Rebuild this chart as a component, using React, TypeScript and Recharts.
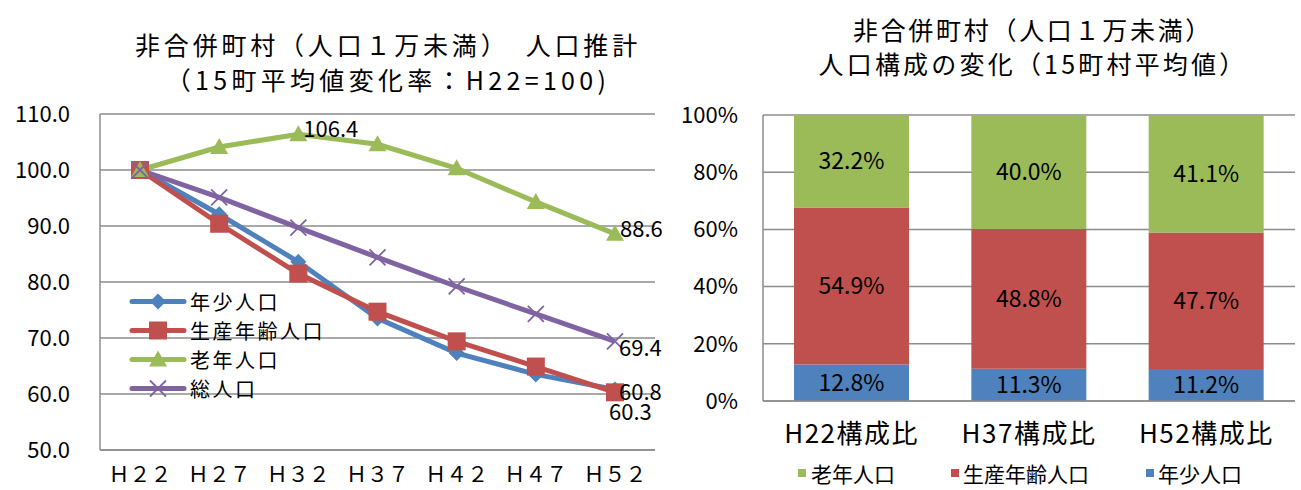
import {
  LineChart,
  Line,
  BarChart,
  Bar,
  XAxis,
  YAxis,
  CartesianGrid,
  LabelList,
} from 'recharts';

// 人口推計（H22=100）
const years = ['Ｈ２２', 'Ｈ２７', 'Ｈ３２', 'Ｈ３７', 'Ｈ４２', 'Ｈ４７', 'Ｈ５２'];
const youth = [100, 92.1, 83.6, 73.5, 67.3, 63.5, 60.8];
const working = [100, 90.4, 81.5, 74.7, 69.4, 64.9, 60.3];
const elderly = [100, 104.1, 106.4, 104.6, 100.3, 94.3, 88.6];
const total = [100, 95.1, 89.7, 84.4, 79.2, 74.3, 69.4];
const lineTicks = [50, 60, 70, 80, 90, 100, 110];

// 人口構成（%）
const periods = ['H22構成比', 'H37構成比', 'H52構成比'];
const youthShare = [12.8, 11.3, 11.2];
const workingShare = [54.9, 48.8, 47.7];
const elderlyShare = [32.2, 40.0, 41.1];
const shareTicks = [0, 20, 40, 60, 80, 100];

const BLUE = '#4F81BD';
const RED = '#C0504D';
const GREEN = '#9BBB59';
const PURPLE = '#8064A2';
const GRID = '#8c8c8c';
const FONT = '"Noto Sans CJK JP", "Noto Sans", sans-serif';

const lineData = years.map((year, i) => ({
  year,
  youth: youth[i],
  working: working[i],
  elderly: elderly[i],
  total: total[i],
}));

const barData = periods.map((period, i) => ({
  period,
  youth: youthShare[i],
  working: workingShare[i],
  elderly: elderlyShare[i],
}));

function diamond(cx: number, cy: number, key?: any) {
  return <path key={key} d={`M${cx},${cy - 8}L${cx + 8},${cy}L${cx},${cy + 8}L${cx - 8},${cy}Z`} fill={BLUE} />;
}
function square(cx: number, cy: number, key?: any) {
  return <rect key={key} x={cx - 9} y={cy - 9} width={18} height={18} fill={RED} />;
}
function triangle(cx: number, cy: number, key?: any) {
  return <path key={key} d={`M${cx},${cy - 9}L${cx + 9},${cy + 7}L${cx - 9},${cy + 7}Z`} fill={GREEN} />;
}
function cross(cx: number, cy: number, key?: any) {
  return (
    <path
      key={key}
      d={`M${cx - 8},${cy - 8}L${cx + 8},${cy + 8}M${cx + 8},${cy - 8}L${cx - 8},${cy + 8}`}
      stroke={PURPLE}
      strokeWidth={1.8}
      fill="none"
    />
  );
}

const dotOf = (fn: (cx: number, cy: number, key?: any) => any) => (p: any) => {
  if (p.cx == null || p.cy == null) return <g key={p.key ?? p.index} />;
  return fn(p.cx, p.cy, p.key ?? p.index);
};

// only some points carry a value label
const pointLabel = (show: number[], dx: number, dy: number) => (p: any) => {
  if (!show.includes(p.index)) return null;
  const x = p.x ?? p.viewBox?.x;
  const y = p.y ?? p.viewBox?.y;
  return (
    <text x={x + dx} y={y + dy} fontSize={22} fill="#000" fontFamily={FONT} dominantBaseline="central">
      {Number(p.value).toFixed(1)}
    </text>
  );
};

const lineLegend = [
  { name: '年少人口', marker: diamond, color: BLUE },
  { name: '生産年齢人口', marker: square, color: RED },
  { name: '老年人口', marker: triangle, color: GREEN },
  { name: '総人口', marker: cross, color: PURPLE },
];

const barLegend = [
  { name: '老年人口', color: GREEN, x: 798, tx: 811 },
  { name: '生産年齢人口', color: RED, x: 951, tx: 963 },
  { name: '年少人口', color: BLUE, x: 1146, tx: 1158 },
];

function Title({ lines, cx, ys, spacing }: { lines: string[]; cx: number; ys: number[]; spacing: number[] }) {
  return (
    <>
      {lines.map((t, i) => (
        <div
          key={i}
          style={{
            position: 'absolute',
            left: cx - 300,
            width: 600,
            top: ys[i] - 16,
            height: 32,
            lineHeight: '32px',
            textAlign: 'center',
            fontSize: 25,
            letterSpacing: spacing[i],
            whiteSpace: 'nowrap',
          }}
        >
          {t}
        </div>
      ))}
    </>
  );
}

export default function App() {
  return (
    <div
      style={{
        position: 'absolute',
        left: 0,
        top: 0,
        width: 1301,
        height: 490,
        background: '#fff',
        fontFamily: FONT,
        color: '#000',
        overflow: 'hidden',
      }}
    >
      <Title
        lines={['非合併町村（人口１万未満）　人口推計', '（15町平均値変化率：H22=100)']}
        cx={388}
        ys={[44, 79]}
        spacing={[3.8, 4.3]}
      />
      <Title
        lines={['非合併町村（人口１万未満）', '人口構成の変化（15町村平均値）']}
        cx={1033}
        ys={[29, 63]}
        spacing={[2.7, 3.2]}
      />

      <div style={{ position: 'absolute', left: 0, top: 0 }}>
        <LineChart width={680} height={490} data={lineData} margin={{ top: 114, right: 25, bottom: 0, left: 0 }}>
          <CartesianGrid vertical={false} stroke={GRID} strokeWidth={1.5} />
          <XAxis
            dataKey="year"
            height={40}
            padding={{ left: 40, right: 40 }}
            tickLine={false}
            tickSize={0}
            tickMargin={17}
            axisLine={{ stroke: GRID, strokeWidth: 1.5 }}
            tick={{ fontSize: 21, fill: '#000', fontFamily: FONT }}
            interval={0}
          />
          <YAxis
            width={100}
            domain={[50, 110]}
            ticks={lineTicks}
            tickFormatter={(v: number) => v.toFixed(1)}
            tickLine={false}
            tickSize={0}
            tickMargin={30}
            axisLine={{ stroke: GRID, strokeWidth: 1.5 }}
            tick={{ fontSize: 22, fill: '#000', fontFamily: FONT }}
          />
          <Line dataKey="youth" stroke={BLUE} strokeWidth={5} dot={dotOf(diamond)} activeDot={false} isAnimationActive={false}>
            <LabelList dataKey="youth" content={pointLabel([6], 4, 0)} />
          </Line>
          <Line dataKey="working" stroke={RED} strokeWidth={5} dot={dotOf(square)} activeDot={false} isAnimationActive={false}>
            <LabelList dataKey="working" content={pointLabel([6], -6, 18)} />
          </Line>
          <Line dataKey="elderly" stroke={GREEN} strokeWidth={5} dot={dotOf(triangle)} activeDot={false} isAnimationActive={false}>
            <LabelList dataKey="elderly" content={pointLabel([2, 6], 5, -7)} />
          </Line>
          <Line dataKey="total" stroke={PURPLE} strokeWidth={5} dot={dotOf(cross)} activeDot={false} isAnimationActive={false}>
            <LabelList dataKey="total" content={pointLabel([6], 4, 5)} />
          </Line>
        </LineChart>
      </div>

      {lineLegend.map((item, i) => (
        <div key={item.name} style={{ position: 'absolute', left: 128, top: 287 + i * 29, height: 29, display: 'flex', alignItems: 'center' }}>
          <svg width={60} height={29} style={{ display: 'block' }}>
            <line x1={4} y1={14.5} x2={56} y2={14.5} stroke={item.color} strokeWidth={5} strokeLinecap="round" />
            {item.marker(30, 14.5)}
          </svg>
          <span style={{ display: 'block', fontSize: 20, letterSpacing: 2.5, marginLeft: 2, height: 29, lineHeight: '29px', whiteSpace: 'nowrap' }}>
            {item.name}
          </span>
        </div>
      ))}

      <div style={{ position: 'absolute', left: 680, top: 0 }}>
        <BarChart width={621} height={490} data={barData} margin={{ top: 115, right: 6, bottom: 39, left: 0 }} barSize={115}>
          <CartesianGrid vertical={false} stroke={GRID} strokeWidth={1.5} />
          <XAxis
            dataKey="period"
            height={50}
            tickLine={false}
            tickSize={0}
            tickMargin={24}
            axisLine={{ stroke: GRID, strokeWidth: 1.5 }}
            tick={{ fontSize: 26, fill: '#000', fontFamily: FONT, letterSpacing: 1.5 }}
            interval={0}
          />
          <YAxis
            width={83}
            domain={[0, 100]}
            ticks={shareTicks}
            allowDataOverflow
            tickFormatter={(v: number) => `${v}%`}
            tickLine={false}
            tickSize={0}
            tickMargin={25}
            axisLine={{ stroke: GRID, strokeWidth: 1.5 }}
            tick={{ fontSize: 22, fill: '#000', fontFamily: FONT }}
          />
          <Bar dataKey="youth" stackId="a" fill={BLUE} isAnimationActive={false}>
            <LabelList dataKey="youth" position="center" formatter={(v: any) => `${Number(v).toFixed(1)}%`} style={{ fontSize: 23, fill: '#000', fontFamily: FONT }} />
          </Bar>
          <Bar dataKey="working" stackId="a" fill={RED} isAnimationActive={false}>
            <LabelList dataKey="working" position="center" formatter={(v: any) => `${Number(v).toFixed(1)}%`} style={{ fontSize: 23, fill: '#000', fontFamily: FONT }} />
          </Bar>
          <Bar dataKey="elderly" stackId="a" fill={GREEN} isAnimationActive={false}>
            <LabelList dataKey="elderly" position="center" formatter={(v: any) => `${Number(v).toFixed(1)}%`} style={{ fontSize: 23, fill: '#000', fontFamily: FONT }} />
          </Bar>
        </BarChart>
      </div>

      {barLegend.map((item) => (
        <div key={item.name}>
          <div style={{ position: 'absolute', left: item.x, top: 469, width: 8, height: 8, background: item.color }} />
          <div style={{ position: 'absolute', left: item.tx, top: 459, fontSize: 21, lineHeight: '28px', whiteSpace: 'nowrap' }}>{item.name}</div>
        </div>
      ))}
    </div>
  );
}
